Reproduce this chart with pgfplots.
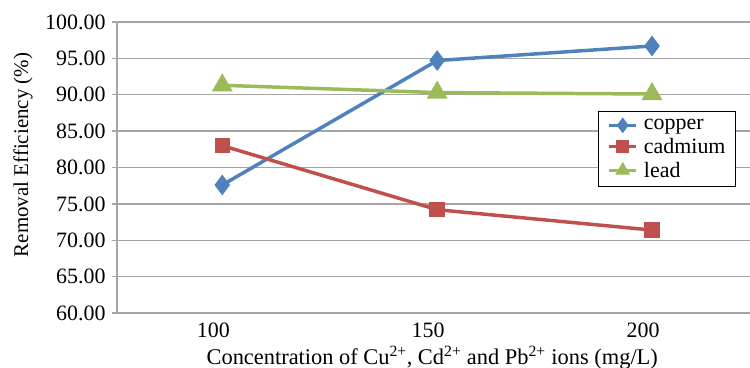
\documentclass[border=0pt]{standalone}
\usepackage{fontspec}
\setmainfont{Liberation Serif}
\usepackage{pgfplots}
\pgfplotsset{compat=1.18}
\definecolor{cu}{RGB}{79,129,189}
\definecolor{cd}{RGB}{192,80,77}
\definecolor{pb}{RGB}{155,187,89}
\definecolor{gridc}{RGB}{165,165,165}
\begin{document}
\begin{tikzpicture}
\useasboundingbox (0bp,0bp) rectangle (750bp,368bp);
\begin{axis}[
  at={(117bp,55bp)}, anchor=south west,
  scale only axis, width=633bp, height=291bp,
  xmin=-0.49, xmax=2.456,
  ymin=60, ymax=100,
  ytick={60,65,...,100},
  xtick={0,1,2}, xticklabels={100,150,200},
  axis x line*=bottom, axis y line*=left,
  axis line style={gridc, line width=1.3pt, -},
  ymajorgrids, grid style={gridc, line width=1.3pt},
  x tick style={draw=none},
  y tick style={gridc, line width=1.3pt},
  tick align=outside, major tick length=5bp,
  tick label style={font=\fontsize{22}{24}\selectfont},
  y tick label style={/pgf/number format/fixed, /pgf/number format/fixed zerofill, /pgf/number format/precision=2, /pgf/number format/assume math mode=true, xshift=-3bp},
  x tick label style={/pgf/number format/assume math mode=true, anchor=base, yshift=-19bp, xshift=-9bp},
  ylabel={Removal Efficiency (\%)},
  xlabel={Concentration of Cu\textsuperscript{2+}, Cd\textsuperscript{2+} and Pb\textsuperscript{2+} ions (mg/L)},
  xlabel style={font=\fontsize{22.5}{24}\selectfont, at={(rel axis cs:0.498,0)}, anchor=base, yshift=-51bp},
  ylabel style={font=\fontsize{21}{22}\selectfont, at={(rel axis cs:0,0.543)}, anchor=center, yshift=94bp},
  legend style={at={(0.760,0.694)}, anchor=north west, draw=black, line width=0.8pt,
    font=\fontsize{22}{23}\selectfont, row sep=5bp, inner xsep=9bp, inner ysep=7bp,
    nodes={inner sep=1bp}, column sep=5bp},
  legend image code/.code={\draw[mark repeat=2,mark phase=2, mark size=5bp] plot coordinates {(0bp,0bp) (13.5bp,0bp) (27bp,0bp)};},
  legend cell align=left,
  clip=false,
]
\addplot[cu, line width=3.5pt, mark=diamond*, mark size=7.5bp] coordinates {(0,77.6) (1,94.7) (2,96.7)};
\addlegendentry{copper}
\addplot[cd, line width=3.5pt, mark=square*, mark size=6bp] coordinates {(0,83.0) (1,74.2) (2,71.4)};
\addlegendentry{cadmium}
\addplot[pb, line width=3.5pt, mark=triangle*, mark size=8.5bp] coordinates {(0,91.3) (1,90.3) (2,90.1)};
\addlegendentry{lead}
\end{axis}
\end{tikzpicture}
\end{document}
